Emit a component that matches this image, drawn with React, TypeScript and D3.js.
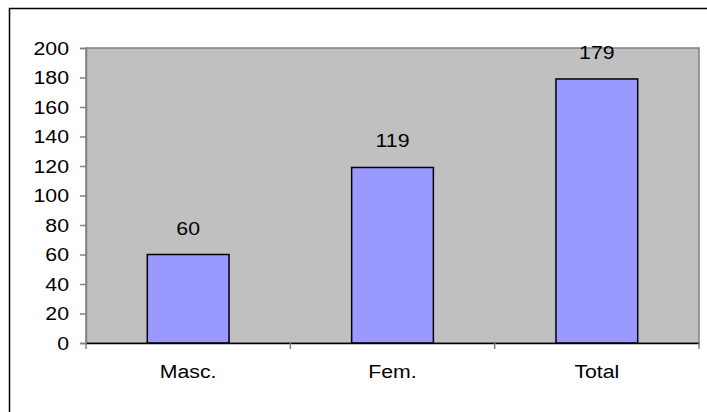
import { useEffect, useRef } from 'react';
import * as d3 from 'd3';

const categories = ['Masc.', 'Fem.', 'Total'];
const values = [60, 119, 179];
const yTicks = [0, 20, 40, 60, 80, 100, 120, 140, 160, 180, 200];

export default function App() {
  const svgRef = useRef<SVGSVGElement | null>(null);

  const width = 707;
  const height = 412;
  const plot = { left: 86, right: 699, top: 48, bottom: 343 };

  useEffect(() => {
    const svg = d3.select(svgRef.current);
    svg.selectAll('*').remove();

    const font = 'Liberation Sans, Arial, sans-serif';
    const fontSize = '19px';
    const stretch = 1.12;

    // outer frame (runs off the right and bottom edges)
    svg
      .append('rect')
      .attr('x', 9.5)
      .attr('y', 8.5)
      .attr('width', 720)
      .attr('height', 420)
      .attr('fill', '#fff')
      .attr('stroke', '#000')
      .attr('stroke-width', 1.5);

    const x = d3
      .scaleBand<string>()
      .domain(categories)
      .range([plot.left, plot.right])
      .paddingInner(0.6)
      .paddingOuter(0.3);

    const bandX = d3
      .scaleBand<string>()
      .domain(categories)
      .range([plot.left, plot.right]);

    const y = d3
      .scaleLinear()
      .domain([0, 200])
      .range([plot.bottom, plot.top]);

    // plot background
    svg
      .append('rect')
      .attr('x', plot.left)
      .attr('y', plot.top)
      .attr('width', plot.right - plot.left)
      .attr('height', plot.bottom - plot.top)
      .attr('fill', '#c0c0c0')
      .attr('stroke', '#808080')
      .attr('stroke-width', 1.5);

    // bars
    svg
      .selectAll('.bar')
      .data(values)
      .enter()
      .append('rect')
      .attr('class', 'bar')
      .attr('x', (_, i) => x(categories[i])!)
      .attr('y', (d) => y(d))
      .attr('width', x.bandwidth())
      .attr('height', (d) => y(0) - y(d))
      .attr('fill', '#9999ff')
      .attr('stroke', '#000')
      .attr('stroke-width', 1.5);

    // value labels
    svg
      .selectAll('.val')
      .data(values)
      .enter()
      .append('text')
      .attr('class', 'val')
      .attr(
        'transform',
        (d, i) =>
          `translate(${x(categories[i])! + x.bandwidth() / 2},${y(d) - 20}) scale(${stretch},1)`
      )
      .attr('text-anchor', 'middle')
      .style('font-family', font)
      .style('font-size', fontSize)
      .attr('fill', '#000')
      .text((d) => String(d));

    // y axis
    const yAxis = svg
      .append('g')
      .attr('transform', `translate(${plot.left},0)`)
      .call(d3.axisLeft(y).tickValues(yTicks).tickSize(6).tickPadding(9));
    yAxis.select('.domain').attr('stroke', '#808080').attr('stroke-width', 1.5);
    yAxis.selectAll('.tick line').attr('stroke', '#808080').attr('stroke-width', 1.5);
    yAxis
      .selectAll('.tick text')
      .attr('transform', `scale(${stretch},1)`)
      .attr('x', -17 / stretch)
      .style('font-family', font)
      .style('font-size', fontSize)
      .attr('fill', '#000');

    // x axis
    const xAxis = svg
      .append('g')
      .attr('transform', `translate(0,${plot.bottom})`)
      .call(d3.axisBottom(bandX).tickSize(0).tickPadding(22));
    xAxis.select('.domain').attr('stroke', '#000').attr('stroke-width', 1.5);
    xAxis
      .selectAll('.tick text')
      .attr('transform', `scale(${stretch},1)`)
      .style('font-family', font)
      .style('font-size', fontSize)
      .attr('fill', '#000');

    // category separator ticks
    const boundaries = [plot.left, ...categories.map((c) => bandX(c)! + bandX.bandwidth())];
    svg
      .selectAll('.xtick')
      .data(boundaries)
      .enter()
      .append('line')
      .attr('class', 'xtick')
      .attr('x1', (d) => d)
      .attr('x2', (d) => d)
      .attr('y1', plot.bottom)
      .attr('y2', plot.bottom + 6)
      .attr('stroke', '#808080')
      .attr('stroke-width', 1.5);
  }, []);

  return (
    <svg
      ref={svgRef}
      width={width}
      height={height}
      style={{ position: 'absolute', left: 0, top: 0, background: '#fff' }}
    ></svg>
  );
}
